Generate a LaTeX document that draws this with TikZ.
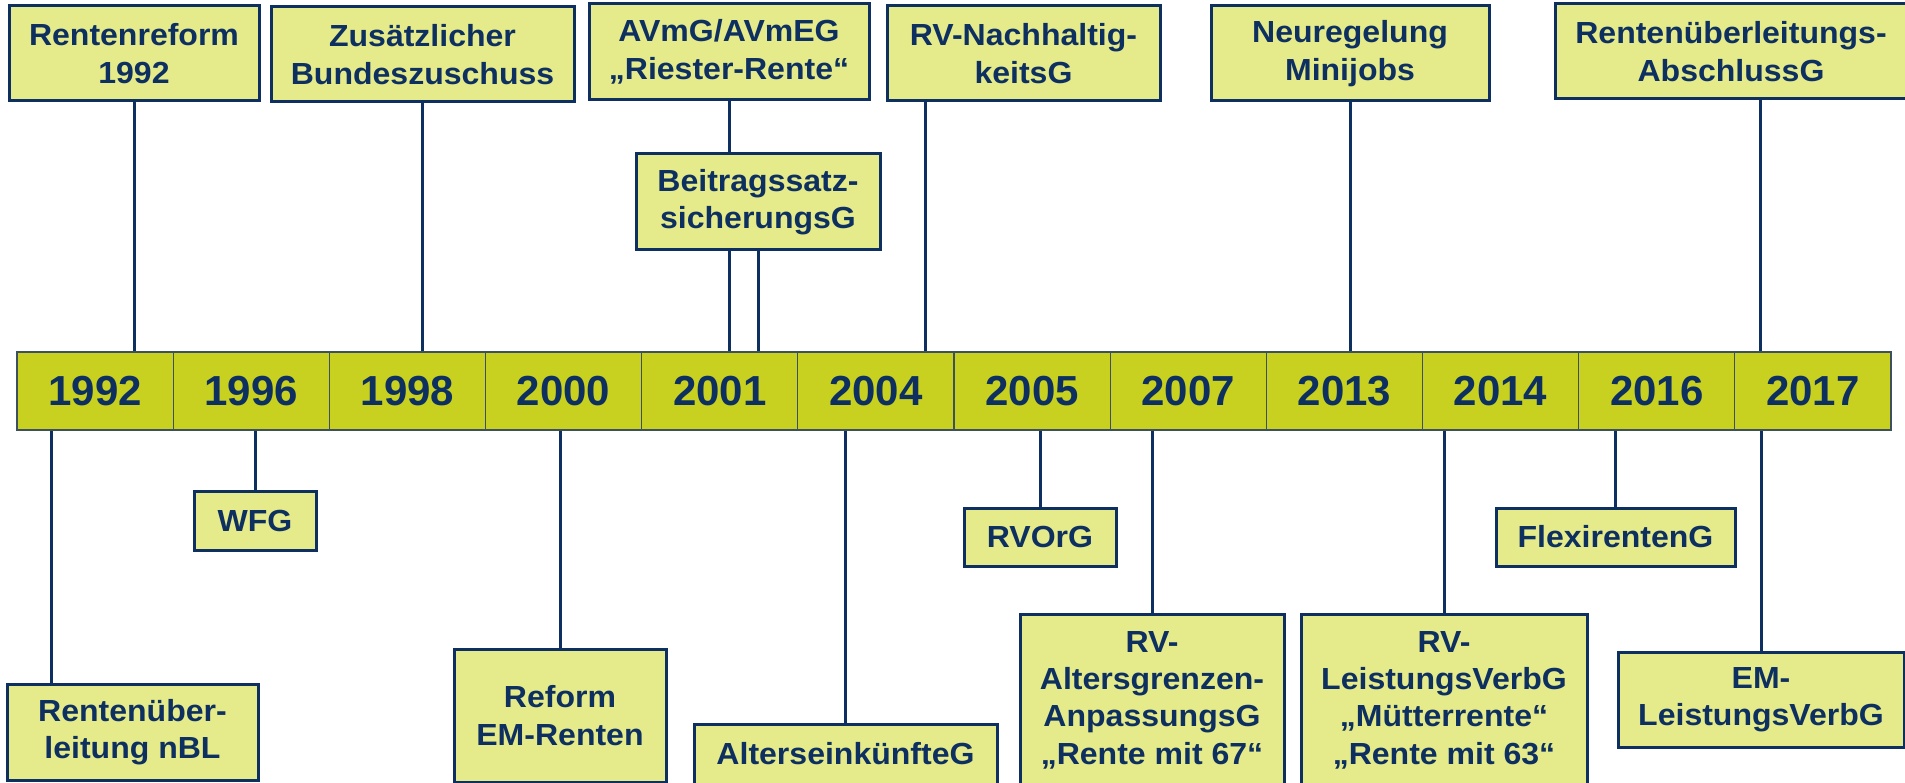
\documentclass[tikz,border=0pt]{standalone}
\usepackage{fontspec}
\setmainfont{Liberation Sans}
\newfontfamily\boxfont[FakeStretch=1.05]{Liberation Sans}
\usetikzlibrary{calc}
\pgfdeclarelayer{background}
\pgfsetlayers{background,main}
\definecolor{navy}{RGB}{14,48,96}
\definecolor{boxfill}{RGB}{229,234,138}
\definecolor{tlfill}{RGB}{200,208,32}
\definecolor{tlline}{RGB}{60,80,95}
\begin{document}
\begin{tikzpicture}[x=1pt,y=-1pt,
 lawbox/.style={draw=navy, line width=3pt, fill=boxfill, text=navy, font=\boxfont\fontsize{30.5}{37.4}\selectfont\bfseries, align=center, inner sep=0pt},
 yearcell/.style={draw=tlline, line width=1.2pt, fill=tlfill, text=navy, font=\fontsize{42}{42}\selectfont\bfseries, minimum width=156.17pt, minimum height=78pt, inner sep=0pt},
 conn/.style={draw=navy, line width=3pt}]
\useasboundingbox (0,0) rectangle (1905,783);
% timeline
\node[yearcell] (y1) at (95.1,391) {1992};
\node[yearcell] (y2) at (251.3,391) {1996};
\node[yearcell] (y3) at (407.4,391) {1998};
\node[yearcell] (y4) at (563.6,391) {2000};
\node[yearcell] (y5) at (719.8,391) {2001};
\node[yearcell] (y6) at (875.9,391) {2004};
\node[yearcell] (y7) at (1032.1,391) {2005};
\node[yearcell] (y8) at (1188.3,391) {2007};
\node[yearcell] (y9) at (1344.4,391) {2013};
\node[yearcell] (y10) at (1500.6,391) {2014};
\node[yearcell] (y11) at (1656.8,391) {2016};
\node[yearcell] (y12) at (1812.9,391) {2017};
% upper boxes
\node[lawbox, minimum width=250pt, minimum height=95pt] (A) at (134,53.5) {Rentenreform\\1992};
\node[lawbox, minimum width=303pt, minimum height=95pt] (B) at (422.5,54.5) {Zusätzlicher\\Bundeszuschuss};
\node[lawbox, minimum width=280pt, minimum height=96pt] (C) at (729,52) {AVmG/AVmEG\\„Riester-Rente“};
\node[lawbox, minimum width=244pt, minimum height=96pt] (D) at (758,202) {Beitragssatz-\\sicherungsG};
\node[lawbox, minimum width=273pt, minimum height=95pt] (E) at (1023.5,53.5) {RV-Nachhaltig-\\keitsG};
\node[lawbox, minimum width=278pt, minimum height=95pt] (F) at (1350,53.5) {Neuregelung\\Minijobs};
\node[lawbox, minimum width=352pt, minimum height=95pt] (G) at (1731,51.5) {Rentenüberleitungs-\\AbschlussG};
% lower boxes
\node[lawbox, minimum width=251pt, minimum height=96pt] (H) at (132.5,732) {Rentenüber-\\leitung nBL};
\node[lawbox, minimum width=122pt, minimum height=59pt] (I) at (255,520.5) {WFG};
\node[lawbox, minimum width=212pt, minimum height=133pt] (J) at (560,715.5) {Reform\\EM-Renten};
\node[lawbox, minimum width=303pt, minimum height=60pt] (K) at (845.5,754) {AlterseinkünfteG};
\node[lawbox, minimum width=152pt, minimum height=58pt] (O) at (1040,537) {RVOrG};
\node[lawbox, minimum width=264pt, minimum height=172pt] (L) at (1152,700) {RV-\\Altersgrenzen-\\AnpassungsG\\„Rente mit 67“};
\node[lawbox, minimum width=286pt, minimum height=172pt] (M) at (1444,700) {RV-\\LeistungsVerbG\\„Mütterrente“\\„Rente mit 63“};
\node[lawbox, minimum width=239pt, minimum height=58pt] (N) at (1615.5,537) {FlexirentenG};
\node[lawbox, minimum width=286pt, minimum height=95pt] (P) at (1761,699.5) {EM-\\LeistungsVerbG};
% offset connector positions
\coordinate (ex) at (925.7,0);
\coordinate (gx) at (1760.8,0);
\coordinate (hx) at (51.4,0);
\begin{pgfonlayer}{background}
\draw[conn] (A.south) -- (A.south |- y1.north);
\draw[conn] (B.south) -- (B.south |- y3.north);
\draw[conn] (C.south) -- (C.south |- y5.north);
\draw[conn] (D.south) -- (D.south |- y5.north);
\draw[conn] (E.south -| ex) -- (y6.north -| ex);
\draw[conn] (F.south) -- (F.south |- y9.north);
\draw[conn] (G.south -| gx) -- (y12.north -| gx);
\draw[conn] (y1.south -| hx) -- (H.north -| hx);
\draw[conn] (I.north |- y2.south) -- (I.north);
\draw[conn] (J.north |- y4.south) -- (J.north);
\draw[conn] (K.north |- y6.south) -- (K.north);
\draw[conn] (O.north |- y7.south) -- (O.north);
\draw[conn] (L.north |- y8.south) -- (L.north);
\draw[conn] (M.north |- y10.south) -- (M.north);
\draw[conn] (N.north |- y11.south) -- (N.north);
\draw[conn] (P.north |- y12.south) -- (P.north);
\end{pgfonlayer}
\end{tikzpicture}
\end{document}
